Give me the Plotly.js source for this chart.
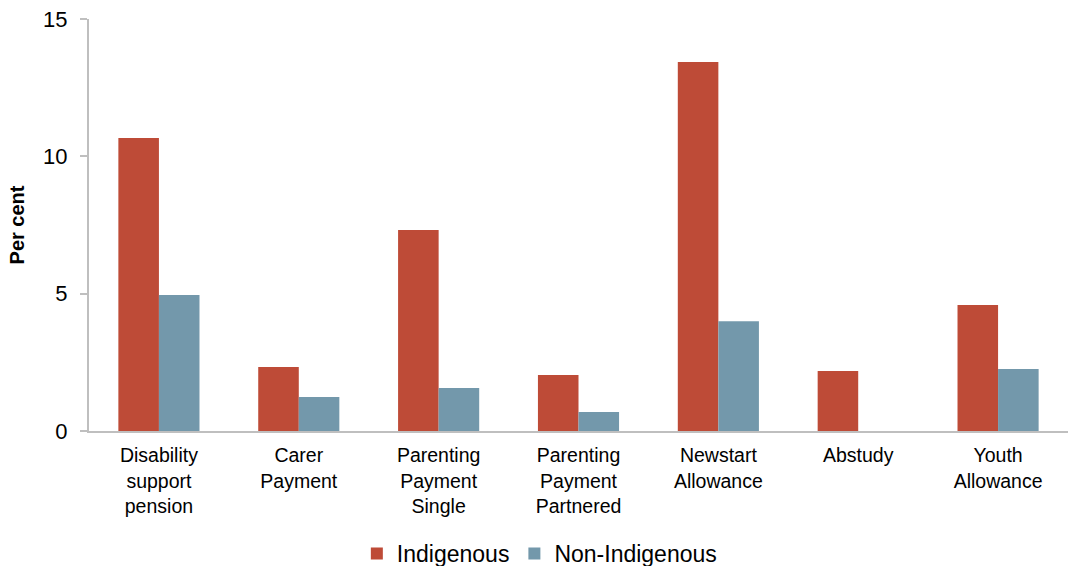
<!DOCTYPE html>
<html>
<head>
<meta charset="utf-8">
<script src="https://cdn.plot.ly/plotly-3.0.1.min.js"></script>
<style>html,body{margin:0;padding:0;background:#fff;}#chart{width:1068px;height:566px;}</style>
</head>
<body>
<div id="chart"></div>
<script>
const categories = ["Disability<br>support<br>pension", "Carer<br>Payment", "Parenting<br>Payment<br>Single", "Parenting<br>Payment<br>Partnered", "Newstart<br>Allowance", "Abstudy", "Youth<br>Allowance"];
const indigenous = [10.67, 2.33, 7.32, 2.04, 13.43, 2.18, 4.59];
const nonIndigenous = [4.95, 1.24, 1.57, 0.69, 4.0, null, 2.26];
const yTicks = [0, 5, 10, 15];

const data = [
  {type: 'bar', name: 'Indigenous', x: categories, y: indigenous, marker: {color: '#BE4B37'}},
  {type: 'bar', name: 'Non-Indigenous', x: categories, y: nonIndigenous, marker: {color: '#7398AB'}}
];
const layout = {
  width: 1068, height: 566,
  margin: {l: 89, r: 0, t: 19, b: 135},
  paper_bgcolor: '#fff', plot_bgcolor: '#fff',
  font: {family: 'Liberation Sans, Arial, sans-serif', color: '#000', size: 19},
  barmode: 'group', bargap: 0.42, bargroupgap: 0,
  showlegend: true,
  legend: {orientation: 'h', x: 0.505, xref: 'container', xanchor: 'center', y: 0.022, yref: 'container', yanchor: 'middle', font: {size: 23}, tracegroupgap: 0},
  xaxis: {
    showline: true, linecolor: '#BFBFBF', linewidth: 2, ticks: '', showgrid: false,
    tickfont: {size: 19.5}, ticklabelstandoff: 6, automargin: false
  },
  yaxis: {
    range: [0, 15], tickvals: yTicks, ticktext: yTicks.map(String), showgrid: false, zeroline: false,
    showline: true, linecolor: '#BFBFBF', linewidth: 2, ticks: 'outside', ticklen: 7, tickcolor: '#BFBFBF', tickwidth: 2,
    tickfont: {size: 22}, ticklabelstandoff: 8,
    title: {text: '<b>Per cent</b>', font: {size: 20}, standoff: 13}, automargin: false
  }
};
Plotly.newPlot('chart', data, layout, {displayModeBar: false, staticPlot: true});
</script>
</body>
</html>
